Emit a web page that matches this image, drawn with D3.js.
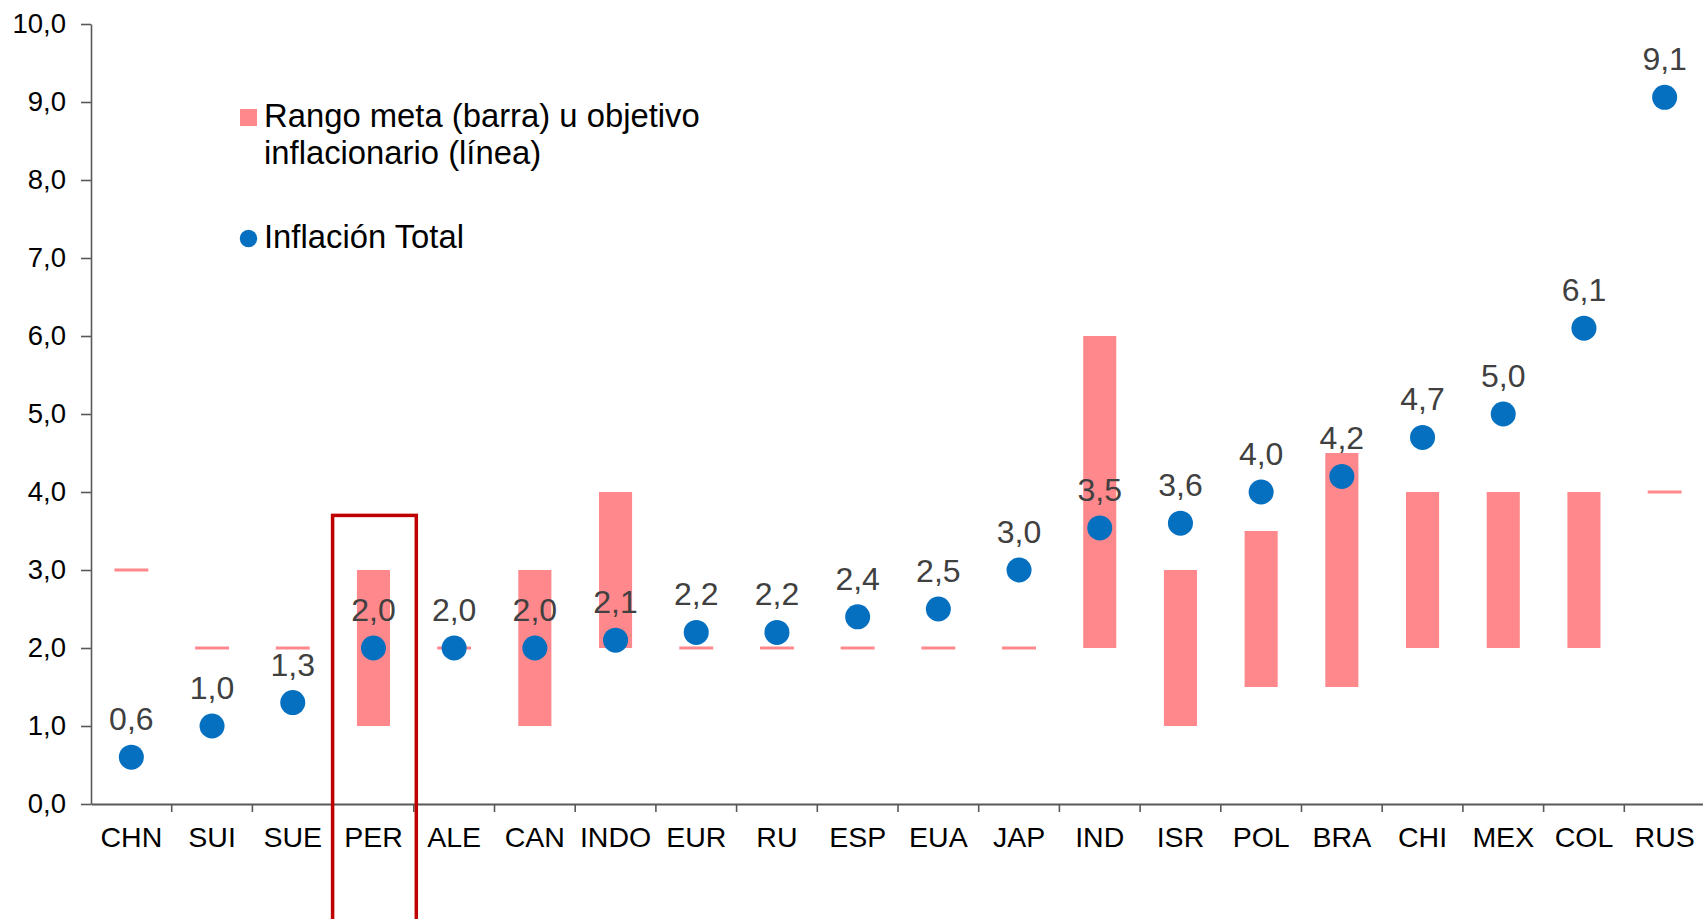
<!DOCTYPE html>
<html>
<head>
<meta charset="utf-8">
<script src="https://cdn.jsdelivr.net/npm/d3@7"></script>
<style>
  html, body { margin: 0; padding: 0; background: #fff; }
  svg { display: block; }
</style>
</head>
<body>
<div id="chart"></div>
<script>
// categories and series
const countries = ['CHN', 'SUI', 'SUE', 'PER', 'ALE', 'CAN', 'INDO', 'EUR', 'RU', 'ESP',
  'EUA', 'JAP', 'IND', 'ISR', 'POL', 'BRA', 'CHI', 'MEX', 'COL', 'RUS'];
const inflation = [0.6, 1.0, 1.3, 2.0, 2.0, 2.0, 2.1, 2.2, 2.2, 2.4,
  2.5, 3.0, 3.54, 3.6, 4.0, 4.2, 4.7, 5.0, 6.1, 9.06];
// target range: low == high means a point target (drawn as a line)
const targetLow = [3, 2, 2, 1, 2, 1, 2, 2, 2, 2,
  2, 2, 2, 1, 1.5, 1.5, 2, 2, 2, 4];
const targetHigh = [3, 2, 2, 3, 2, 3, 4, 2, 2, 2,
  2, 2, 6, 3, 3.5, 4.5, 4, 4, 4, 4];
const yTicks = [0, 1, 2, 3, 4, 5, 6, 7, 8, 9, 10];
const legendLabels = [['Rango meta (barra) u objetivo', 'inflacionario (línea)'], ['Inflación Total']];
const highlight = 'PER';
const highlightTop = 3.7;

const width = 1703, height = 919;
const margin = { top: 24, right: -2, bottom: 115, left: 91 };
const font = '"Liberation Sans", Arial, sans-serif';
const barColor = '#ff888c';
const dotColor = '#0570c0';

const svg = d3.select('#chart').append('svg')
  .attr('width', width)
  .attr('height', height);

const x = d3.scaleBand().domain(countries).range([margin.left, width - margin.right]).padding(0);
const y = d3.scaleLinear().domain([0, 10]).range([height - margin.bottom, margin.top]);
const bw = x.bandwidth();
const comma = d3.formatLocale({ decimal: ',', thousands: '.', grouping: [3], currency: ['', ''] }).format('.1f');

const rows = countries.map((c, i) => ({ c, v: inflation[i], lo: targetLow[i], hi: targetHigh[i] }));

// target bars and lines
const gTarget = svg.append('g');
gTarget.selectAll('rect.range')
  .data(rows.filter(d => d.hi > d.lo))
  .join('rect')
  .attr('class', 'range')
  .attr('x', d => x(d.c) + bw / 2 - bw * 0.205)
  .attr('width', bw * 0.41)
  .attr('y', d => y(d.hi))
  .attr('height', d => y(d.lo) - y(d.hi))
  .attr('fill', barColor);
gTarget.selectAll('line.point')
  .data(rows.filter(d => d.hi === d.lo))
  .join('line')
  .attr('class', 'point')
  .attr('x1', d => x(d.c) + bw / 2 - bw * 0.21)
  .attr('x2', d => x(d.c) + bw / 2 + bw * 0.21)
  .attr('y1', d => y(d.lo))
  .attr('y2', d => y(d.lo))
  .attr('stroke', barColor)
  .attr('stroke-width', 3.2);

// axes
const gy = svg.append('g')
  .attr('transform', `translate(${margin.left},0)`)
  .call(d3.axisLeft(y).tickValues(yTicks).tickSize(10).tickSizeOuter(0).tickPadding(15).tickFormat(comma));
gy.select('.domain').attr('stroke', '#595959').attr('stroke-width', 1.6);
gy.selectAll('.tick line').attr('stroke', '#595959').attr('stroke-width', 1.6);
gy.selectAll('text').attr('font-family', font).attr('font-size', 27.5).attr('fill', '#000');

const gx = svg.append('g')
  .attr('transform', `translate(0,${y(0)})`)
  .call(d3.axisBottom(x).tickSize(0).tickSizeOuter(0).tickPadding(23));
gx.select('.domain').attr('stroke', '#595959').attr('stroke-width', 2);
gx.selectAll('text').attr('font-family', font).attr('font-size', 28.5).attr('fill', '#000');
gx.selectAll('line.sep')
  .data(countries.slice(1))
  .join('line')
  .attr('class', 'sep')
  .attr('x1', d => x(d)).attr('x2', d => x(d))
  .attr('y1', 0).attr('y2', 8)
  .attr('stroke', '#595959')
  .attr('stroke-width', 1.6);

// dots and labels
svg.append('g').selectAll('circle')
  .data(rows)
  .join('circle')
  .attr('cx', d => x(d.c) + bw / 2)
  .attr('cy', d => y(d.v))
  .attr('r', 12.5)
  .attr('fill', dotColor);
svg.append('g').selectAll('text')
  .data(rows)
  .join('text')
  .attr('x', d => x(d.c) + bw / 2)
  .attr('y', d => y(d.v) - 27)
  .attr('text-anchor', 'middle')
  .attr('font-family', font)
  .attr('font-size', 32)
  .attr('fill', '#404040')
  .text(d => comma(d.v));

// highlight box around PER
svg.append('rect')
  .attr('x', x(highlight) - 0.5)
  .attr('y', y(highlightTop))
  .attr('width', bw + 3)
  .attr('height', height)
  .attr('fill', 'none')
  .attr('stroke', '#c00000')
  .attr('stroke-width', 3.5);

// legend
const lg = svg.append('g').attr('font-family', font).attr('font-size', 32.8).attr('fill', '#000');
lg.append('rect').attr('x', 240).attr('y', 109).attr('width', 17).attr('height', 17).attr('fill', barColor);
lg.append('circle').attr('cx', 248.5).attr('cy', 238.5).attr('r', 8.7).attr('fill', dotColor);
const legendY = [127, 248];
legendLabels.forEach((lines, i) => {
  const t = lg.append('text').attr('x', 264).attr('y', legendY[i]);
  lines.forEach((s, j) => t.append('tspan').attr('x', 264).attr('dy', j === 0 ? 0 : 37).text(s));
});
</script>
</body>
</html>
